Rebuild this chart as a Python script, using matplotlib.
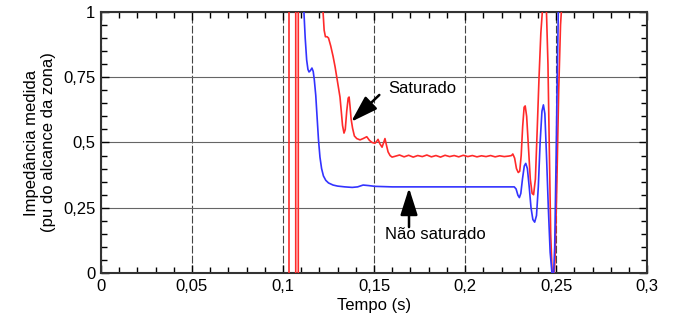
import matplotlib.pyplot as plt
import numpy as np
from matplotlib.ticker import MultipleLocator, FixedLocator, FixedFormatter

plt.rcParams['font.family'] = ['Liberation Sans', 'DejaVu Sans']

# curva não saturada (azul)
t_azul = [0.1100, 0.1115, 0.1122, 0.1130, 0.1137, 0.1143, 0.1150, 0.1159, 0.1166, 0.1172,
          0.1180, 0.1187, 0.1195, 0.1203, 0.1212, 0.1222, 0.1235, 0.1250, 0.1275, 0.1300,
          0.1340, 0.1380, 0.1410, 0.1440, 0.1470, 0.1505, 0.1600, 0.1800, 0.2000, 0.2200,
          0.2270, 0.2280, 0.2290, 0.2298, 0.2306, 0.2315, 0.2325, 0.2333, 0.2342, 0.2352,
          0.2362, 0.2372, 0.2382, 0.2392, 0.2402, 0.2412, 0.2422, 0.2430, 0.2438, 0.2447,
          0.2457, 0.2467, 0.2477, 0.2485, 0.2492, 0.2500, 0.2507, 0.2513, 0.2520]
z_azul = [1.20, 1.00, 0.900, 0.816, 0.780, 0.770, 0.775, 0.785, 0.772, 0.740,
          0.680, 0.600, 0.510, 0.444, 0.400, 0.372, 0.355, 0.345, 0.337, 0.333,
          0.330, 0.328, 0.330, 0.337, 0.335, 0.332, 0.330, 0.330, 0.330, 0.330,
          0.330, 0.322, 0.298, 0.289, 0.305, 0.360, 0.410, 0.420, 0.400, 0.330,
          0.250, 0.205, 0.195, 0.220, 0.330, 0.500, 0.620, 0.644, 0.610, 0.450,
          0.250, 0.080, 0.000, -0.02, 0.100, 0.450, 0.800, 1.050, 1.300]

# curva saturada (vermelha), com as oscilações fora de escala perto de 0,1 s
t_verm = [0.1033, 0.1033, np.nan, 0.1070, 0.1070, np.nan, 0.1084, 0.1084, np.nan,
          0.1215, 0.1220, 0.1226, 0.1233, 0.1242, 0.1250, 0.1262, 0.1275, 0.1286, 0.1300,
          0.1313, 0.1320, 0.1327, 0.1335, 0.1342, 0.1350, 0.1358, 0.1363, 0.1368, 0.1374,
          0.1382, 0.1392, 0.1405, 0.1423, 0.1440, 0.1460, 0.1475, 0.1489, 0.1505, 0.1515,
          0.1522, 0.1532, 0.1544, 0.1553, 0.1560, 0.1568, 0.1577, 0.1588, 0.1599, 0.1615,
          0.1640, 0.1665, 0.1690, 0.1715, 0.1740, 0.1765, 0.1790, 0.1815, 0.1840, 0.1865,
          0.1890, 0.1915, 0.1940, 0.1965, 0.1990, 0.2015, 0.2040, 0.2065, 0.2090, 0.2115,
          0.2140, 0.2165, 0.2190, 0.2215, 0.2240, 0.2255, 0.2262, 0.2272, 0.2282, 0.2292,
          0.2300, 0.2308, 0.2316, 0.2324, 0.2330, 0.2338, 0.2348, 0.2358, 0.2368, 0.2376,
          0.2386, 0.2396, 0.2406, 0.2416, 0.2426, 0.2436, 0.2446, 0.2455, 0.2463, 0.2470,
          0.2478, 0.2486, 0.2494, 0.2504, 0.2514, 0.2524, 0.2533, 0.2540]
z_verm = [-0.1, 1.1, np.nan, -0.1, 1.1, np.nan, -0.1, 1.1, np.nan,
          1.20, 1.00, 0.930, 0.905, 0.905, 0.900, 0.870, 0.830, 0.790, 0.730,
          0.674, 0.620, 0.565, 0.536, 0.550, 0.620, 0.670, 0.674, 0.640, 0.590,
          0.555, 0.525, 0.515, 0.510, 0.515, 0.522, 0.508, 0.500, 0.497, 0.505,
          0.512, 0.495, 0.482, 0.500, 0.515, 0.490, 0.464, 0.450, 0.444, 0.447,
          0.452, 0.445, 0.451, 0.444, 0.450, 0.446, 0.452, 0.445, 0.450, 0.444,
          0.451, 0.446, 0.450, 0.445, 0.451, 0.446, 0.450, 0.445, 0.449, 0.446,
          0.450, 0.445, 0.449, 0.446, 0.448, 0.450, 0.456, 0.440, 0.400, 0.385,
          0.390, 0.450, 0.560, 0.635, 0.640, 0.600, 0.480, 0.360, 0.305, 0.300,
          0.360, 0.550, 0.750, 0.920, 1.020, 1.060, 1.020, 0.800, 0.450, 0.150,
          0.000, -0.03, 0.050, 0.350, 0.700, 0.950, 1.050, 1.200]

xticks = [0, 0.05, 0.1, 0.15, 0.2, 0.25, 0.3]
xlabels = ['0', '0,05', '0,1', '0,15', '0,2', '0,25', '0,3']
yticks = [0, 0.25, 0.5, 0.75, 1]
ylabels = ['0', '0,25', '0,5', '0,75', '1']

fs = 12

fig = plt.figure(figsize=(6.77, 3.22), dpi=100)
ax = fig.add_axes([0.149, 0.152, 0.807, 0.811])

ax.plot(t_verm, z_verm, color='#ff2a2a', linewidth=1.2, zorder=3)
ax.plot(t_azul, z_azul, color='#3333ff', linewidth=1.2, zorder=4)

ax.set_xlim(0, 0.3)
ax.set_ylim(0, 1)
ax.xaxis.set_major_locator(FixedLocator(xticks))
ax.xaxis.set_major_formatter(FixedFormatter(xlabels))
ax.yaxis.set_major_locator(FixedLocator(yticks))
ax.yaxis.set_major_formatter(FixedFormatter(ylabels))
ax.xaxis.set_minor_locator(MultipleLocator(0.01))
ax.yaxis.set_minor_locator(MultipleLocator(0.05))
ax.tick_params(which='both', direction='in', top=True, right=True, labelsize=fs, width=1.0)
ax.tick_params(which='major', length=6, pad=4)
ax.tick_params(which='minor', length=4)
for s in ax.spines.values():
    s.set_linewidth(1.5)
    s.set_color('#333333')

ax.grid(axis='x', color='#444444', linestyle=(0, (7, 2)), linewidth=0.8)
ax.grid(axis='y', color='#666666', linestyle='-', linewidth=0.8)
ax.set_axisbelow(True)

ax.set_xlabel('Tempo (s)', fontsize=fs, labelpad=3)
ax.set_ylabel('Impedância medida\n(pu do alcance da zona)', fontsize=fs, labelpad=5)

# anotações
seta = dict(arrowstyle='-|>,head_length=1.1,head_width=0.35', color='black', lw=1.8,
            mutation_scale=15, shrinkA=0, shrinkB=0)
ax.annotate('', xy=(0.1374, 0.579), xytext=(0.1529, 0.682), arrowprops=seta)
ax.text(0.1577, 0.705, 'Saturado', fontsize=fs, va='center', ha='left')
ax.annotate('', xy=(0.1692, 0.326), xytext=(0.1692, 0.176), arrowprops=seta)
ax.text(0.1560, 0.149, 'Não saturado', fontsize=fs, va='center', ha='left')

plt.savefig('out.png', dpi=100)
